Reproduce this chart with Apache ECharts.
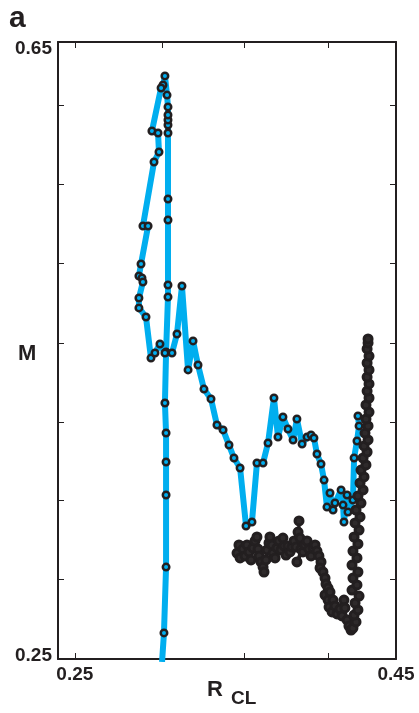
<!DOCTYPE html>
<html lang="en">
<head>
    <meta charset="UTF-8">
    <title>M vs R_CL</title>
    <style>
        * { margin: 0; padding: 0; box-sizing: border-box; }
        body { background: #fff; }
        #chart { width: 419px; height: 713px; }
    </style>
</head>
<body>
    <div id="chart"></div>

    <script src="https://cdn.jsdelivr.net/npm/echarts@6/dist/echarts.min.js"></script>
    <script>
    // axis ranges and tick labels
    const X_RANGE = [0.2395, 0.45];
    const Y_RANGE = [0.25, 0.65];
    const X_LABELS = [0.25, 0.45];
    const Y_LABELS = [0.25, 0.65];
    const X_TICKS = [0.2501, 0.3043, 0.3553, 0.4077];
    const Y_TICKS = [0.3019, 0.3531, 0.4036, 0.4549, 0.5067, 0.5579, 0.6092];

    // blue trajectory [R_CL, M]
    const blueTrace = [
        [0.3043, 0.2481], [0.3055, 0.2669], [0.3068, 0.3096], [0.3068, 0.3563], [0.3068, 0.3777],
        [0.3068, 0.3965], [0.3061, 0.4160], [0.3068, 0.4490], [0.3080, 0.4847], [0.3080, 0.4925],
        [0.3080, 0.5346], [0.3080, 0.5482], [0.3080, 0.5910], [0.3080, 0.5962], [0.3080, 0.5994],
        [0.3080, 0.6027], [0.3080, 0.6079], [0.3074, 0.6156], [0.3061, 0.6280], [0.3049, 0.6221],
        [0.3037, 0.6202], [0.2980, 0.5923], [0.3018, 0.5910], [0.3024, 0.5787], [0.2993, 0.5722],
        [0.2924, 0.5307], [0.2956, 0.5307], [0.2912, 0.5061], [0.2899, 0.4983], [0.2918, 0.4970],
        [0.2924, 0.4944], [0.2899, 0.4840], [0.2899, 0.4776], [0.2943, 0.4717], [0.2974, 0.4451],
        [0.2999, 0.4484], [0.3030, 0.4542], [0.3061, 0.4484], [0.3105, 0.4484], [0.3136, 0.4607],
        [0.3167, 0.4918], [0.3205, 0.4374], [0.3236, 0.4562], [0.3267, 0.4406], [0.3304, 0.4250],
        [0.3348, 0.4186], [0.3385, 0.4017], [0.3423, 0.3985], [0.3460, 0.3887], [0.3491, 0.3803],
        [0.3529, 0.3738], [0.3566, 0.3362], [0.3603, 0.3388], [0.3634, 0.3771], [0.3672, 0.3771],
        [0.3703, 0.3900], [0.3740, 0.4192], [0.3765, 0.3939], [0.3796, 0.4069], [0.3827, 0.3991],
        [0.3859, 0.3920], [0.3883, 0.4056], [0.3915, 0.3894], [0.3946, 0.3939], [0.3971, 0.3952],
        [0.3989, 0.3933], [0.4008, 0.3829], [0.4033, 0.3764], [0.4052, 0.3660], [0.4070, 0.3485],
        [0.4089, 0.3576], [0.4108, 0.3466], [0.4120, 0.3511], [0.4158, 0.3596], [0.4170, 0.3498],
        [0.4176, 0.3388], [0.4195, 0.3563], [0.4201, 0.3453], [0.4232, 0.3531], [0.4239, 0.3803],
        [0.4257, 0.3913], [0.4270, 0.4011], [0.4263, 0.4075]
    ];

    // black trajectory [R_CL, M]
    const blackTrace = [
        [0.3510, 0.3187], [0.3522, 0.3239], [0.3529, 0.3155], [0.3547, 0.3213], [0.3560, 0.3168],
        [0.3572, 0.3239], [0.3585, 0.3194], [0.3597, 0.3142], [0.3609, 0.3220], [0.3622, 0.3265],
        [0.3634, 0.3291], [0.3641, 0.3213], [0.3647, 0.3168], [0.3659, 0.3129], [0.3672, 0.3096],
        [0.3678, 0.3064], [0.3690, 0.3142], [0.3697, 0.3207], [0.3709, 0.3252], [0.3715, 0.3291],
        [0.3728, 0.3239], [0.3734, 0.3187], [0.3747, 0.3155], [0.3759, 0.3220], [0.3771, 0.3265],
        [0.3784, 0.3207], [0.3796, 0.3284], [0.3803, 0.3233], [0.3815, 0.3174], [0.3827, 0.3233],
        [0.3840, 0.3194], [0.3852, 0.3226], [0.3865, 0.3265], [0.3877, 0.3226], [0.3890, 0.3323],
        [0.3896, 0.3395], [0.3902, 0.3284], [0.3908, 0.3213], [0.3883, 0.3129], [0.3921, 0.3194],
        [0.3933, 0.3239], [0.3946, 0.3265], [0.3958, 0.3213], [0.3971, 0.3168], [0.3983, 0.3220],
        [0.3996, 0.3239], [0.4008, 0.3200], [0.4020, 0.3168], [0.4033, 0.3129], [0.4027, 0.3090],
        [0.4045, 0.3064], [0.4058, 0.3025], [0.4064, 0.2986], [0.4077, 0.2960], [0.4058, 0.2915],
        [0.4077, 0.2882], [0.4089, 0.2934], [0.4108, 0.2882], [0.4083, 0.2837], [0.4102, 0.2805],
        [0.4120, 0.2844], [0.4133, 0.2792], [0.4151, 0.2824], [0.4164, 0.2779], [0.4176, 0.2882],
        [0.4182, 0.2831], [0.4195, 0.2753], [0.4207, 0.2714], [0.4220, 0.2688], [0.4232, 0.2701],
        [0.4251, 0.2740], [0.4239, 0.2785], [0.4263, 0.2818], [0.4245, 0.2863], [0.4270, 0.2908],
        [0.4226, 0.2947], [0.4257, 0.2980], [0.4232, 0.3025], [0.4263, 0.3064], [0.4226, 0.3109],
        [0.4257, 0.3155], [0.4232, 0.3200], [0.4263, 0.3246], [0.4239, 0.3291], [0.4270, 0.3336],
        [0.4245, 0.3382], [0.4276, 0.3421], [0.4251, 0.3466], [0.4282, 0.3511], [0.4263, 0.3557],
        [0.4295, 0.3596], [0.4276, 0.3641], [0.4301, 0.3680], [0.4282, 0.3725], [0.4313, 0.3758],
        [0.4295, 0.3803], [0.4320, 0.3842], [0.4301, 0.3881], [0.4326, 0.3920], [0.4307, 0.3965],
        [0.4326, 0.4011], [0.4313, 0.4056], [0.4332, 0.4101], [0.4313, 0.4147], [0.4332, 0.4192],
        [0.4320, 0.4237], [0.4332, 0.4283], [0.4320, 0.4328], [0.4332, 0.4374], [0.4320, 0.4419],
        [0.4332, 0.4464], [0.4320, 0.4510], [0.4326, 0.4549], [0.4326, 0.4575]
    ];

    (() => {
        const $ = (id) => document.getElementById(id);
        const chart = echarts.init($('chart'), null, { renderer: 'canvas' });

        const INK = '#231f20';
        const BLUE = '#00aeef';
        const FONT = "'Liberation Sans', Arial, sans-serif";

        const tickStyle = { inside: true, length: 6, lineStyle: { color: INK, width: 1 } };
        const lineStyle = { lineStyle: { color: INK, width: 2 } };

        const xAxis = (pos, labels) => ({
            type: 'value', position: pos, min: X_RANGE[0], max: X_RANGE[1],
            axisLine: { show: true, onZero: false, ...lineStyle },
            axisTick: { ...tickStyle, customValues: X_TICKS },
            axisLabel: {
                show: labels, customValues: X_LABELS, margin: 6,
                formatter: (v) => v.toFixed(2),
                color: INK, fontFamily: FONT, fontWeight: 'bold', fontSize: 19
            },
            splitLine: { show: false }
        });

        const yAxis = (pos, labels) => ({
            type: 'value', position: pos, min: Y_RANGE[0], max: Y_RANGE[1],
            axisLine: { show: true, onZero: false, ...lineStyle },
            axisTick: { ...tickStyle, customValues: Y_TICKS },
            axisLabel: {
                show: labels, customValues: Y_LABELS, margin: 6,
                formatter: (v) => (v > 0.5 ? '{hi|' : '{lo|') + v.toFixed(2) + '}',
                rich: {
                    hi: { padding: [14, 0, 0, 0], color: INK, fontFamily: FONT, fontWeight: 'bold', fontSize: 19 },
                    lo: { padding: [0, 0, 6, 0], color: INK, fontFamily: FONT, fontWeight: 'bold', fontSize: 19 }
                }
            },
            splitLine: { show: false }
        });

        const txt = (x, y, text, size) => ({
            type: 'text', left: x, top: y,
            style: { text, fill: INK, font: `bold ${size}px ${FONT}` }
        });

        chart.setOption({
            animation: false,
            grid: { left: 58, right: 23, top: 42, bottom: 54 },
            xAxis: [xAxis('bottom', true), xAxis('top', false)],
            yAxis: [yAxis('left', true), yAxis('right', false)],
            graphic: [
                txt(9, 4, 'a', 30),
                txt(18, 343, 'M', 22),
                txt(207, 679, 'R', 22),
                txt(231, 689, 'CL', 19)
            ],
            series: [
                {
                    name: 'blue', type: 'line', data: blueTrace, z: 2,
                    lineStyle: { color: BLUE, width: 6 },
                    symbol: 'circle', symbolSize: 6.5,
                    itemStyle: { color: BLUE, borderColor: INK, borderWidth: 2.5 }
                },
                {
                    name: 'black', type: 'line', data: blackTrace, z: 3,
                    lineStyle: { color: INK, width: 2.5 },
                    symbol: 'circle', symbolSize: 8,
                    itemStyle: { color: '#2e2a2b', borderColor: INK, borderWidth: 3 }
                }
            ]
        });

        window.addEventListener('resize', () => chart.resize());
    })();
    </script>
</body>
</html>
